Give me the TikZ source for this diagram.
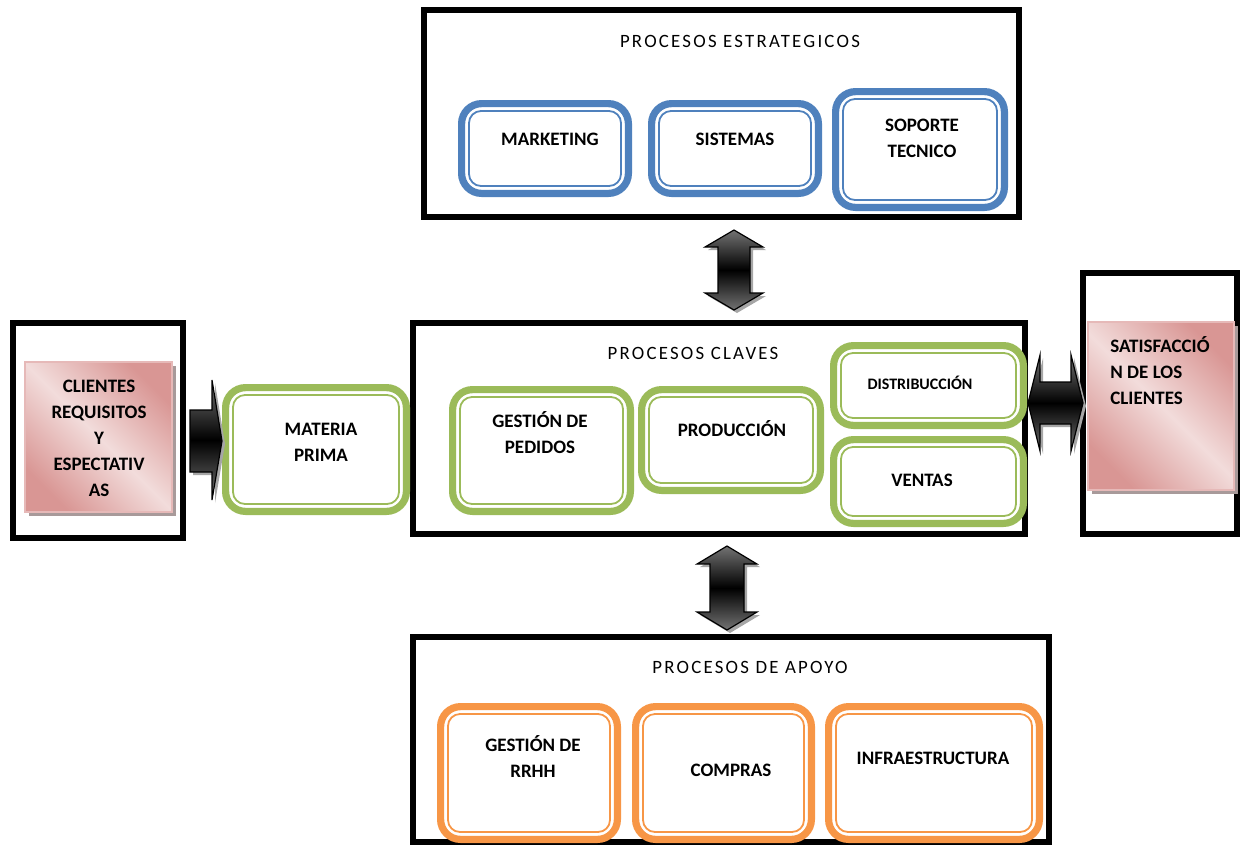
\documentclass[tikz,border=0pt]{standalone}
\usepackage{fontspec}
\setmainfont{Carlito}
\newfontfamily\titlefont{Carlito}[LetterSpace=12]
\usetikzlibrary{fit}
\definecolor{sblue}{HTML}{4F81BD}
\definecolor{sgreen}{HTML}{9BBB59}
\definecolor{sorange}{HTML}{F79646}
\definecolor{pinkdark}{HTML}{D99694}
\definecolor{pinklight}{HTML}{F2DCDB}
\definecolor{pinkedge}{HTML}{E6B9B8}
\definecolor{pinkshadow}{HTML}{A89A9A}
\tikzset{
  frame/.style={draw=black, line width=2.8pt, inner sep=0pt},
  outerline/.style={draw=#1, line width=3.6pt, rounded corners=10pt, inner sep=0pt},
  innerline/.style={draw=#1, line width=0.9pt, rounded corners=6pt, inner sep=0pt},
  lbl/.style={font=\bfseries\fontsize{9.5}{13}\selectfont, align=center, inner sep=0pt},
  ttl/.style={font=\titlefont\fontsize{9.4}{11}\selectfont, inner sep=0pt},
  shadowfill/.style={fill=black!35},
  pinkshade/.style={fill=pinkshadow},
  arrowbody/.style={draw=black, line width=0.6pt, top color=black!55, bottom color=black!55, middle color=black},
  pinkfill/.style={draw=pinkedge, line width=0.8pt, inner sep=0pt, left color=pinkdark, right color=pinkdark, shading angle=135, middle color=pinklight},
}
\newcommand\procbox[6]{%
  \node[outerline=#2, fit={(#3+3.6,#4+3.6) (#5-3.6,#6-3.6)}] (#1) {};
  \node[innerline=#2, fit={(#3+11,#4+11) (#5-11,#6-11)}] (#1-in) {};
}
\newcommand\frbox[5]{%
  \node[frame, fit={(#2+2.8,#3+2.8) (#4-2.8,#5-2.8)}] (#1) {};
}
\newcommand\blockarrow[1]{%
  \fill[shadowfill, shift={(3,3)}] #1;
  \path[arrowbody] #1;
}
\begin{document}
\begin{tikzpicture}[x=0.5pt, y=-0.5pt]
\useasboundingbox (0,0) rectangle (1243,848);

% frames
\frbox{strat}{421}{7}{1022}{220}
\frbox{clave}{410}{320}{1028}{537}
\frbox{apoyo}{410}{634}{1052}{845}
\frbox{clibox}{10}{320}{186}{541}
\frbox{satbox}{1080}{270}{1240}{537}

% titles
\node[ttl] (t1) at (740,41) {PROCESOS ESTRATEGICOS};
\node[ttl] (t2) at (693,353) {PROCESOS CLAVES};
\node[ttl] (t3) at (750,667) {PROCESOS DE APOYO};

% strategic
\procbox{mk}{sblue}{458}{100}{632}{197}
\procbox{si}{sblue}{648}{100}{822}{197}
\procbox{so}{sblue}{832}{88}{1008}{211}
\node[lbl] (mkt) at (550,139) {MARKETING};
\node[lbl] (sit) at (735,139) {SISTEMAS};
\node[lbl] (sot) at (922,138) {SOPORTE\\TECNICO};

% key
\procbox{mp}{sgreen}{222}{384}{410}{515}
\procbox{gp}{sgreen}{449}{386}{634}{515}
\procbox{pr}{sgreen}{638}{386}{824}{494}
\procbox{di}{sgreen}{830}{342}{1027}{429}
\procbox{ve}{sgreen}{830}{436}{1027}{527}
\node[lbl] (mpt) at (321,442) {MATERIA\\PRIMA};
\node[lbl] (gpt) at (540,433) {GESTIÓN DE\\PEDIDOS};
\node[lbl] (prt) at (732,429) {PRODUCCIÓN};
\node[lbl, font=\bfseries\fontsize{8}{10}\selectfont] (dit) at (920,383) {DISTRIBUCCIÓN};
\node[lbl] (vet) at (922,480) {VENTAS};

% support
\procbox{rh}{sorange}{437}{703}{621}{843}
\procbox{co}{sorange}{632}{703}{815}{843}
\procbox{in}{sorange}{825}{703}{1043}{843}
\node[lbl] (rht) at (533,757) {GESTIÓN DE\\RRHH};
\node[lbl] (cot) at (731,770) {COMPRAS};
\node[lbl] (int) at (933,758) {INFRAESTRUCTURA};

% pink boxes
\fill[pinkshade] (29,366) rectangle (176,516);
\node[pinkfill, fit={(25,362) (172,512)}] (cli) {};
\node[lbl] (clit) at (99,438) {CLIENTES\\REQUISITOS\\Y\\ESPECTATIV\\AS};
\fill[pinkshade] (1092,326) rectangle (1238,494);
\node[pinkfill, fit={(1088,322) (1234,490)}] (sat) {};
\node[lbl, align=left, anchor=west] (satt) at (1110,371) {SATISFACCIÓ\\N DE LOS\\CLIENTES};

% arrows
\blockarrow{(734,230) -- (763,247) -- (750,247) -- (750,293) -- (763,293) -- (734,310) -- (705,293) -- (718,293) -- (718,247) -- (705,247) -- cycle}
\blockarrow{(727,546) -- (757,564) -- (744,564) -- (744,612) -- (757,612) -- (727,630) -- (697,612) -- (710,612) -- (710,564) -- (697,564) -- cycle}
\blockarrow{(1028,403) -- (1040,355) -- (1040,382) -- (1071,382) -- (1071,355) -- (1083,403) -- (1071,451) -- (1071,424) -- (1040,424) -- (1040,451) -- cycle}
\blockarrow{(190,410) -- (212,410) -- (212,380) -- (222,441) -- (212,500) -- (212,472) -- (190,472) -- cycle}
\end{tikzpicture}
\end{document}
